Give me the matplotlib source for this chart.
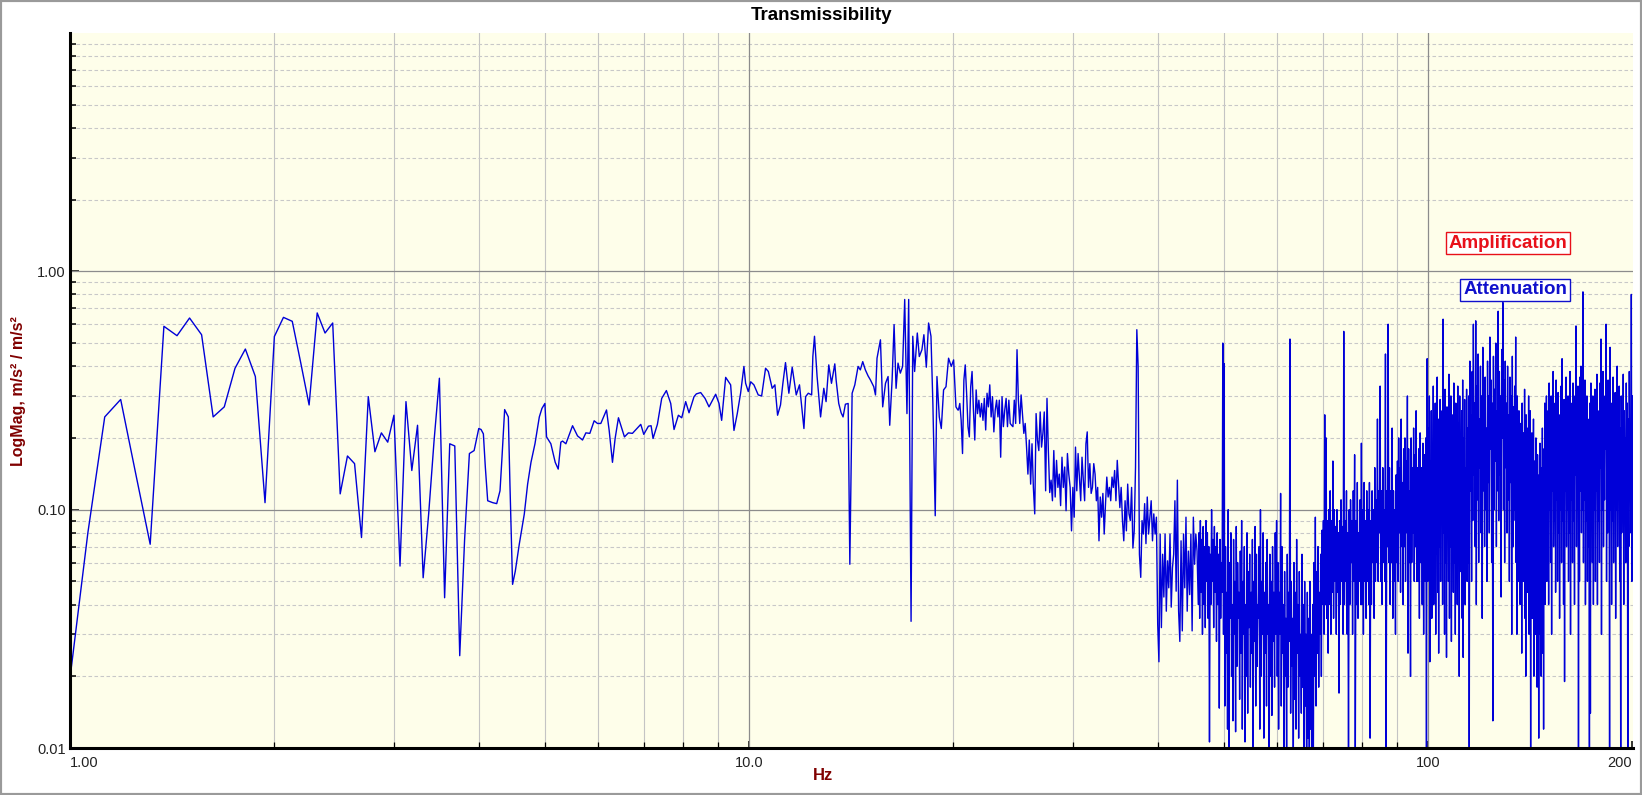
import numpy as np
import matplotlib
matplotlib.use('Agg')
import matplotlib.pyplot as plt
from matplotlib.patches import Rectangle
from matplotlib.ticker import FixedLocator, NullFormatter

plt.rcParams['font.family'] = ['Liberation Sans', 'DejaVu Sans']

# ---------------- data ----------------
freq_1_4 = [1.0, 1.0625, 1.125, 1.1875, 1.25, 1.3125, 1.375, 1.4375, 1.5, 1.5625,
            1.625, 1.6875, 1.75, 1.8125, 1.875, 1.9375, 2.0, 2.0625, 2.125, 2.1875,
            2.25, 2.3125, 2.375, 2.4375, 2.5, 2.5625, 2.625, 2.6875, 2.75, 2.8125,
            2.875, 2.9375, 3.0, 3.0625, 3.125, 3.1875, 3.25, 3.3125, 3.375, 3.4375,
            3.5, 3.5625, 3.625, 3.6875, 3.75, 3.8125, 3.875, 3.9375]
mag_1_4 = [0.0196, 0.08, 0.245, 0.290, 0.141, 0.0716, 0.588, 0.537, 0.637, 0.542,
           0.245, 0.270, 0.392, 0.472, 0.362, 0.107, 0.533, 0.641, 0.617, 0.412,
           0.275, 0.669, 0.551, 0.607, 0.1165, 0.168, 0.156, 0.0764, 0.298, 0.175,
           0.210, 0.192, 0.249, 0.058, 0.284, 0.146, 0.226, 0.0518, 0.096, 0.195,
           0.356, 0.0427, 0.189, 0.185, 0.0244, 0.075, 0.172, 0.177]

freq_4_20 = [4.000, 4.031, 4.063, 4.090, 4.123, 4.194, 4.251, 4.299, 4.328, 4.367,
             4.422, 4.446, 4.486, 4.528, 4.589, 4.668, 4.721, 4.775, 4.840, 4.912,
             4.956, 5.006, 5.034, 5.108, 5.184, 5.237, 5.284, 5.315, 5.375, 5.498,
             5.591, 5.687, 5.752, 5.830, 5.916, 5.983, 6.051, 6.169, 6.225, 6.295,
             6.352, 6.424, 6.497, 6.556, 6.645, 6.736, 6.828, 6.929, 7.000, 7.111,
             7.176, 7.224, 7.331, 7.439, 7.558, 7.670, 7.757, 7.872, 7.962, 8.069,
             8.161, 8.301, 8.366, 8.490, 8.617, 8.734, 8.933, 9.035, 9.116, 9.241,
             9.398, 9.505, 9.612, 9.721, 9.831, 9.888, 9.977, 10.06, 10.17, 10.32,
             10.44, 10.58, 10.68, 10.82, 10.92, 11.02, 11.13, 11.22, 11.32, 11.45,
             11.58, 11.74, 11.87, 12.05, 12.12, 12.23, 12.37, 12.42, 12.49, 12.60,
             12.75, 12.89, 12.99, 13.11, 13.23, 13.38, 13.44, 13.56, 13.67, 13.76,
             13.87, 14.00, 14.08, 14.19, 14.32, 14.48, 14.59, 14.71, 14.84, 14.98,
             15.10, 15.27, 15.36, 15.44, 15.62, 15.74, 15.89, 16.03, 16.12, 16.25,
             16.36, 16.47, 16.58, 16.71, 16.84, 16.96, 17.09, 17.19, 17.33, 17.43,
             17.54, 17.70, 17.82, 17.98, 18.10, 18.25, 18.39, 18.54, 18.66, 18.81,
             18.92, 19.07, 19.20, 19.35, 19.51, 19.68, 19.86, 20.02, 20.18, 20.31]
mag_4_20 = [0.219, 0.217, 0.208, 0.151, 0.109, 0.107, 0.106, 0.120, 0.166, 0.263,
            0.245, 0.128, 0.0486, 0.0553, 0.0716, 0.0959, 0.128, 0.158, 0.189, 0.245,
            0.266, 0.279, 0.202, 0.189, 0.158, 0.148, 0.192, 0.194, 0.189, 0.225,
            0.204, 0.196, 0.210, 0.209, 0.236, 0.230, 0.230, 0.262, 0.215, 0.158,
            0.199, 0.243, 0.219, 0.202, 0.210, 0.209, 0.218, 0.228, 0.207, 0.224,
            0.225, 0.199, 0.228, 0.293, 0.316, 0.279, 0.217, 0.249, 0.243, 0.284,
            0.255, 0.298, 0.306, 0.310, 0.293, 0.270, 0.305, 0.279, 0.237, 0.359,
            0.334, 0.215, 0.253, 0.308, 0.399, 0.339, 0.313, 0.344, 0.334, 0.303,
            0.300, 0.392, 0.380, 0.323, 0.334, 0.249, 0.275, 0.339, 0.414, 0.308,
            0.396, 0.303, 0.334, 0.219, 0.298, 0.308, 0.303, 0.439, 0.534, 0.362,
            0.245, 0.323, 0.284, 0.405, 0.339, 0.409, 0.350, 0.279, 0.255, 0.245,
            0.277, 0.279, 0.059, 0.308, 0.334, 0.399, 0.386, 0.418, 0.386, 0.364,
            0.350, 0.328, 0.303, 0.432, 0.516, 0.270, 0.339, 0.362, 0.226, 0.350,
            0.598, 0.323, 0.412, 0.374, 0.399, 0.762, 0.253, 0.762, 0.034, 0.534,
            0.380, 0.551, 0.439, 0.469, 0.542, 0.396, 0.607, 0.534, 0.279, 0.0943,
            0.362, 0.245, 0.219, 0.318, 0.328, 0.432, 0.399, 0.425, 0.270, 0.262]

# dense part: frequency band edges and the magnitudes read inside each band
band_edges = [20.35, 30.0, 40.0, 45.9, 50.0, 60.0, 70.0, 80.0, 90.0,
              96.7, 100.0, 114.6, 134.5, 150.1, 175.9, 200.4]

mag_20_30 = [0.262, 0.279, 0.237, 0.172, 0.350, 0.405, 0.308, 0.223, 0.202, 0.328,
             0.380, 0.262, 0.196, 0.318, 0.253, 0.288, 0.245, 0.279, 0.237, 0.293,
             0.216, 0.308, 0.270, 0.334, 0.245, 0.298, 0.212, 0.262, 0.288, 0.245,
             0.288, 0.166, 0.298, 0.223, 0.262, 0.293, 0.223, 0.288, 0.230, 0.226,
             0.223, 0.288, 0.230, 0.469, 0.288, 0.230, 0.303, 0.253, 0.209, 0.230,
             0.183, 0.141, 0.196, 0.128, 0.189, 0.124, 0.096, 0.253, 0.196, 0.177,
             0.257, 0.183, 0.209, 0.257, 0.120, 0.293, 0.177, 0.118, 0.133, 0.109,
             0.177, 0.113, 0.161, 0.124, 0.141, 0.104, 0.166, 0.124, 0.151, 0.099,
             0.172, 0.141, 0.124, 0.0815]
mag_30_40 = [0.124, 0.093, 0.183, 0.120, 0.172, 0.137, 0.109, 0.166, 0.133, 0.109,
             0.189, 0.212, 0.124, 0.156, 0.117, 0.124, 0.156, 0.141, 0.109, 0.124,
             0.074, 0.113, 0.093, 0.117, 0.079, 0.106, 0.137, 0.113, 0.124, 0.109,
             0.137, 0.124, 0.146, 0.109, 0.161, 0.128, 0.102, 0.124, 0.090, 0.074,
             0.109, 0.0815, 0.128, 0.096, 0.090, 0.124, 0.069, 0.0815, 0.151, 0.569,
             0.399, 0.065, 0.052, 0.090, 0.079, 0.106, 0.072, 0.113, 0.079, 0.093,
             0.109, 0.074, 0.096, 0.079, 0.093]
mag_40_46 = [0.033, 0.023, 0.079, 0.032, 0.065, 0.043, 0.079, 0.0375, 0.061, 0.047,
             0.079, 0.039, 0.057, 0.065, 0.109, 0.0455, 0.133, 0.0375, 0.028, 0.074,
             0.031, 0.079, 0.047, 0.093, 0.0375, 0.067, 0.044, 0.079, 0.031, 0.093,
             0.059, 0.079, 0.067]
mag_46_50 = [0.04, 0.08, 0.035, 0.09, 0.045, 0.075, 0.03, 0.085, 0.04, 0.07,
             0.032, 0.09, 0.05, 0.08, 0.035, 0.07, 0.0106, 0.065, 0.04, 0.1,
             0.05, 0.075, 0.032, 0.085, 0.045, 0.07, 0.028, 0.08, 0.04, 0.065,
             0.0147, 0.075, 0.035, 0.06, 0.045, 0.5]
mag_50_60 = [0.03, 0.41, 0.015, 0.07, 0.025, 0.045, 0.012, 0.1, 0.0099, 0.06,
             0.035, 0.08, 0.02, 0.04, 0.013, 0.075, 0.03, 0.05, 0.0117, 0.085,
             0.022, 0.06, 0.035, 0.045, 0.016, 0.067, 0.025, 0.09, 0.012, 0.05,
             0.03, 0.07, 0.0106, 0.04, 0.02, 0.08, 0.014, 0.055, 0.032, 0.065,
             0.018, 0.045, 0.025, 0.075, 0.0099, 0.05, 0.028, 0.085, 0.015, 0.065,
             0.022, 0.04, 0.035, 0.07, 0.012, 0.1, 0.02, 0.05, 0.03, 0.08,
             0.011, 0.045, 0.025, 0.06, 0.015, 0.075, 0.03, 0.04, 0.008, 0.065,
             0.02, 0.05, 0.0137, 0.07, 0.028, 0.045, 0.018, 0.08, 0.03, 0.09]
mag_60_70 = [0.02, 0.06, 0.012, 0.045, 0.03, 0.117, 0.015, 0.07, 0.025, 0.04,
             0.01, 0.055, 0.02, 0.035, 0.009, 0.065, 0.018, 0.045, 0.028, 0.52,
             0.014, 0.05, 0.022, 0.035, 0.009, 0.06, 0.016, 0.045, 0.012, 0.075,
             0.025, 0.04, 0.011, 0.055, 0.02, 0.03, 0.014, 0.065, 0.018, 0.04,
             0.009, 0.05, 0.015, 0.03, 0.007, 0.045, 0.011, 0.035, 0.008, 0.05,
             0.012, 0.03, 0.006, 0.04, 0.009, 0.06, 0.02, 0.093, 0.015, 0.055,
             0.025, 0.07, 0.018, 0.045, 0.03, 0.065, 0.02, 0.082]
mag_70_80 = [0.04, 0.09, 0.03, 0.25, 0.04, 0.2, 0.035, 0.09, 0.025, 0.1,
             0.04, 0.12, 0.03, 0.09, 0.045, 0.16, 0.035, 0.1, 0.05, 0.085,
             0.03, 0.1, 0.045, 0.08, 0.017, 0.09, 0.04, 0.11, 0.05, 0.085,
             0.03, 0.56, 0.04, 0.09, 0.05, 0.12, 0.03, 0.08, 0.009, 0.1,
             0.04, 0.11, 0.06, 0.09, 0.03, 0.12, 0.05, 0.17, 0.009, 0.09,
             0.04, 0.13, 0.035, 0.08, 0.05, 0.11, 0.04, 0.19]
mag_80_90 = [0.04, 0.1, 0.03, 0.13, 0.05, 0.09, 0.035, 0.12, 0.05, 0.1,
             0.04, 0.13, 0.011, 0.09, 0.04, 0.12, 0.06, 0.1, 0.035, 0.15,
             0.05, 0.11, 0.06, 0.24, 0.05, 0.12, 0.08, 0.33, 0.05, 0.12,
             0.04, 0.15, 0.06, 0.1, 0.05, 0.45, 0.009, 0.12, 0.07, 0.6,
             0.06, 0.15, 0.04, 0.12, 0.06, 0.22, 0.035, 0.12, 0.05, 0.1,
             0.03, 0.14]
mag_90_97 = [0.06, 0.16, 0.05, 0.2, 0.08, 0.15, 0.045, 0.24, 0.07, 0.13,
             0.04, 0.18, 0.07, 0.2, 0.05, 0.16, 0.08, 0.3, 0.025, 0.18,
             0.06, 0.12, 0.02, 0.2, 0.06, 0.15, 0.08, 0.22, 0.05, 0.17,
             0.07, 0.26, 0.05, 0.15]
mag_97_100 = [0.05, 0.18, 0.035, 0.21, 0.06, 0.15, 0.04, 0.19, 0.03, 0.17,
              0.05, 0.2, 0.01, 0.43]
mag_100_115 = [0.05, 0.22, 0.09, 0.3, 0.023, 0.16, 0.06, 0.26, 0.035, 0.14,
               0.08, 0.33, 0.04, 0.2, 0.1, 0.28, 0.03, 0.17, 0.065, 0.36,
               0.045, 0.24, 0.025, 0.15, 0.07, 0.29, 0.05, 0.19, 0.11, 0.26,
               0.04, 0.63, 0.08, 0.22, 0.03, 0.32, 0.06, 0.18, 0.024, 0.27,
               0.09, 0.14, 0.05, 0.37, 0.035, 0.21, 0.07, 0.3, 0.028, 0.16,
               0.1, 0.25, 0.045, 0.34, 0.06, 0.19, 0.03, 0.28, 0.085, 0.15,
               0.04, 0.33, 0.07, 0.23, 0.02, 0.3, 0.055, 0.17, 0.09, 0.26,
               0.035, 0.35, 0.024, 0.2, 0.075, 0.29, 0.04, 0.15, 0.065, 0.32,
               0.05, 0.22]
mag_115_135 = [0.06, 0.3, 0.009, 0.42, 0.12, 0.25, 0.05, 0.38, 0.09, 0.6,
               0.14, 0.28, 0.07, 0.62, 0.04, 0.33, 0.11, 0.45, 0.06, 0.24,
               0.15, 0.4, 0.08, 0.3, 0.035, 0.48, 0.12, 0.27, 0.07, 0.36,
               0.1, 0.22, 0.05, 0.42, 0.13, 0.3, 0.08, 0.53, 0.18, 0.35,
               0.06, 0.28, 0.013, 0.44, 0.1, 0.32, 0.16, 0.5, 0.07, 0.26,
               0.12, 0.68, 0.09, 0.38, 0.14, 0.3, 0.043, 0.47, 0.2, 0.74,
               0.1, 0.35, 0.06, 0.42, 0.15, 0.28, 0.08, 0.4, 0.11, 0.25,
               0.05, 0.36, 0.13, 0.3, 0.03, 0.44, 0.07, 0.27, 0.1, 0.33]
mag_135_150 = [0.09, 0.53, 0.06, 0.22, 0.03, 0.3, 0.1, 0.18, 0.05, 0.26,
               0.08, 0.15, 0.04, 0.23, 0.07, 0.19, 0.025, 0.28, 0.09, 0.16,
               0.05, 0.21, 0.06, 0.32, 0.035, 0.17, 0.02, 0.25, 0.08, 0.14,
               0.045, 0.22, 0.06, 0.3, 0.03, 0.18, 0.075, 0.26, 0.009, 0.15,
               0.05, 0.21, 0.035, 0.13, 0.065, 0.24, 0.02, 0.16, 0.045, 0.11,
               0.03, 0.2, 0.05, 0.12, 0.018, 0.17, 0.04, 0.1, 0.011, 0.14,
               0.03, 0.19, 0.05, 0.11, 0.02, 0.15, 0.035, 0.22, 0.025, 0.12,
               0.012, 0.18, 0.06, 0.28, 0.04, 0.2, 0.08, 0.3, 0.05, 0.17]
mag_150_176 = [0.08, 0.26, 0.04, 0.34, 0.1, 0.18, 0.06, 0.3, 0.03, 0.22,
               0.12, 0.38, 0.07, 0.16, 0.09, 0.28, 0.045, 0.35, 0.11, 0.2,
               0.05, 0.31, 0.08, 0.25, 0.035, 0.17, 0.1, 0.33, 0.06, 0.43,
               0.09, 0.24, 0.04, 0.29, 0.019, 0.2, 0.12, 0.36, 0.07, 0.18,
               0.1, 0.3, 0.05, 0.26, 0.08, 0.38, 0.03, 0.21, 0.11, 0.28,
               0.06, 0.34, 0.09, 0.19, 0.04, 0.3, 0.14, 0.59, 0.07, 0.25,
               0.1, 0.33, 0.009, 0.22, 0.05, 0.36, 0.12, 0.4, 0.08, 0.2,
               0.1, 0.82, 0.06, 0.27, 0.11, 0.35, 0.04, 0.18, 0.09, 0.3,
               0.05, 0.24, 0.07, 0.16, 0.009, 0.28, 0.014, 0.34, 0.1, 0.2,
               0.06, 0.3, 0.04, 0.22]
mag_176_200 = [0.1, 0.32, 0.05, 0.2, 0.12, 0.37, 0.04, 0.26, 0.09, 0.18,
               0.06, 0.34, 0.15, 0.52, 0.03, 0.24, 0.1, 0.38, 0.07, 0.21,
               0.11, 0.3, 0.18, 0.6, 0.05, 0.27, 0.08, 0.35, 0.12, 0.2,
               0.009, 0.48, 0.1, 0.28, 0.04, 0.17, 0.09, 0.36, 0.06, 0.23,
               0.12, 0.31, 0.035, 0.19, 0.1, 0.4, 0.07, 0.25, 0.13, 0.33,
               0.05, 0.22, 0.009, 0.3, 0.08, 0.17, 0.11, 0.37, 0.04, 0.26,
               0.14, 0.2, 0.06, 0.34, 0.1, 0.28, 0.009, 0.24, 0.07, 0.38,
               0.12, 0.19, 0.08, 0.8, 0.05, 0.3]

band_mags = [mag_20_30, mag_30_40, mag_40_46, mag_46_50, mag_50_60, mag_60_70,
             mag_70_80, mag_80_90, mag_90_97, mag_97_100, mag_100_115,
             mag_115_135, mag_135_150, mag_150_176, mag_176_200]

x_major = [1, 10, 100, 200]
x_major_labels = ['1.00', '10.0', '100', '200']
y_major = [0.01, 0.1, 1.0]
y_major_labels = ['0.01', '0.10', '1.00']

# ---------------- assemble series ----------------
freqs = list(freq_1_4) + list(freq_4_20)
mags = list(mag_1_4) + list(mag_4_20)
for lo, hi, m in zip(band_edges[:-1], band_edges[1:], band_mags):
    freqs.extend(np.geomspace(lo, hi, len(m), endpoint=False))
    mags.extend(m)

# ---------------- figure ----------------
W, H = 1642, 795
fig = plt.figure(figsize=(W / 100, H / 100), dpi=100)
fig.patch.set_facecolor('white')
ax = fig.add_axes([70 / W, 1 - 748 / H, (1633 - 70) / W, (748 - 33) / H])
ax.set_facecolor('#fefeea')
ax.set_xscale('log')
ax.set_yscale('log')
ax.set_xlim(1.0, 200.5)
ax.set_ylim(0.01, 10)

# ticks
ax.xaxis.set_major_locator(FixedLocator(x_major))
ax.set_xticklabels(x_major_labels)
x_minor = [2, 3, 4, 5, 6, 7, 8, 9, 20, 30, 40, 50, 60, 70, 80, 90]
ax.xaxis.set_minor_locator(FixedLocator(x_minor))
ax.xaxis.set_minor_formatter(NullFormatter())
ax.yaxis.set_major_locator(FixedLocator(y_major))
ax.set_yticklabels(y_major_labels)
y_minor = [k * d for d in (0.01, 0.1, 1.0) for k in range(2, 10)]
ax.yaxis.set_minor_locator(FixedLocator(y_minor))
ax.yaxis.set_minor_formatter(NullFormatter())

labs = ax.get_xticklabels()
labs[0].set_horizontalalignment('left')
labs[-1].set_horizontalalignment('right')

ax.tick_params(axis='both', which='both', direction='in', color='black',
               labelsize=10.5, labelcolor='#222222')
ax.tick_params(axis='y', which='major', length=6.5, width=1.1, pad=3)
ax.tick_params(axis='y', which='minor', length=4.3, width=1.1)
ax.tick_params(axis='x', which='major', length=5, width=1.1, pad=6)
ax.tick_params(axis='x', which='minor', length=4, width=0.9)

# grid
ax.set_axisbelow(True)
ax.xaxis.grid(True, which='minor', color='#c4c4c4', lw=0.8, ls='-')
ax.yaxis.grid(True, which='minor', color='#c8c8c8', lw=0.8, ls=(0, (3.2, 2.2)))
ax.xaxis.grid(False, which='major')
ax.yaxis.grid(False, which='major')
for v in (10, 100):
    ax.axvline(v, color='#8c8c8c', lw=0.9, zorder=1)
for v in (0.1, 1.0):
    ax.axhline(v, color='#8c8c8c', lw=0.9, zorder=1)

for s in ('top', 'right'):
    ax.spines[s].set_visible(False)
for s in ('left', 'bottom'):
    ax.spines[s].set_linewidth(2.2)
    ax.spines[s].set_color('black')
    ax.spines[s].set_zorder(5)

# data
ax.plot(freqs, mags, color='#0000d8', lw=1.0, zorder=3)

# texts
fig.text(0.5, 1 - 16 / H, 'Transmissibility', ha='center', va='center',
         fontsize=13.5, fontweight='bold', color='black')
fig.text(823 / W, 1 - 776 / H, 'Hz', ha='center', va='center',
         fontsize=12, fontweight='bold', color='#800000')
fig.text(18.5 / W, 1 - 391 / H, 'LogMag, m/s² / m/s²', ha='center', va='center',
         rotation=90, fontsize=11.5, fontweight='bold', color='#800000')

fig.text(1508 / W, 1 - 243 / H, 'Amplification', ha='center', va='center',
         fontsize=13.5, fontweight='bold', color='#e8101a', zorder=10,
         bbox=dict(boxstyle='square,pad=0.15', fc='white', ec='#e8101a', lw=1.0))
fig.text(1515 / W, 1 - 290 / H, 'Attenuation', ha='center', va='center',
         fontsize=13.5, fontweight='bold', color='#1010cc', zorder=10,
         bbox=dict(boxstyle='square,pad=0.15', fc='white', ec='#1010cc', lw=1.0))

fig.add_artist(Rectangle((0, 0), 1, 1, transform=fig.transFigure, fill=False,
                         ec='#9a9a9a', lw=3))

fig.savefig('out.png', dpi=100)
